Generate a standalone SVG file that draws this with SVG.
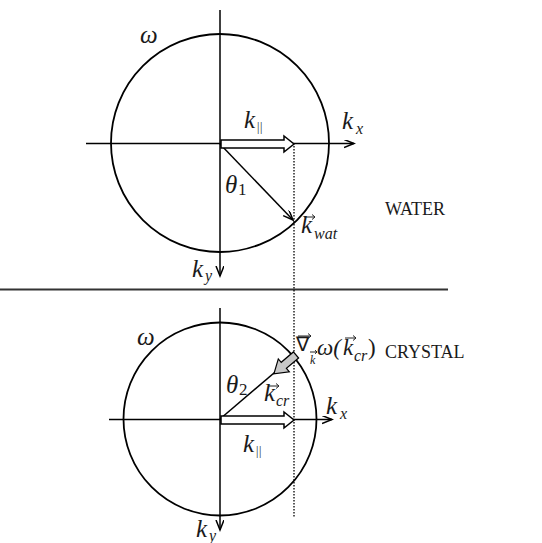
<svg xmlns="http://www.w3.org/2000/svg" width="542" height="543" viewBox="0 0 542 543">
<style>
.ln{stroke:#000;stroke-width:1.5;fill:none}
.circ{stroke:#000;stroke-width:1.8;fill:none}
.dot{stroke:#000;stroke-width:1.3;stroke-dasharray:1.5 1.5;fill:none}
.hollow{fill:#fff;stroke:#000;stroke-width:1.5;stroke-linejoin:miter}
.grad{fill:#c8c8c8;stroke:#000;stroke-width:1.2}
.acc{stroke:#222;stroke-width:1;fill:none}
text{font-family:"Liberation Serif","Times New Roman",serif;fill:#1a1a1a}
.it{font-style:italic;font-size:25px}
.sub{font-style:italic;font-size:16px}
.up{font-size:17px}
.par{font-size:12px;letter-spacing:0.5px}
.lab{font-size:18px}
</style>
<defs>
<marker id="ah" markerWidth="12" markerHeight="10" refX="10" refY="4" orient="auto" markerUnits="userSpaceOnUse">
<path d="M0,0 L10,4 L0,8" stroke="#000" stroke-width="1.5" fill="none"/>
</marker>
</defs>
<rect width="542" height="543" fill="#fff"/>

<g id="separator"><line x1="0" y1="289.5" x2="448" y2="289.5" stroke="#333" stroke-width="2"/></g>

<g id="connectors">
<line class="ln" x1="220" y1="10" x2="220" y2="276" marker-end="url(#ah)"/>
<line class="ln" x1="86" y1="143.5" x2="354" y2="143.5" marker-end="url(#ah)"/>
<line class="ln" x1="220" y1="144" x2="293" y2="220" marker-end="url(#ah)"/>
<line class="dot" x1="294" y1="146" x2="294" y2="517"/>
<line class="ln" x1="220" y1="308" x2="220" y2="530" marker-end="url(#ah)"/>
<line class="ln" x1="109" y1="419.5" x2="332" y2="419.5" marker-end="url(#ah)"/>
<line class="ln" x1="220" y1="419" x2="294" y2="356"/>
</g>

<g id="water-circle"><circle class="circ" cx="220" cy="143" r="109"/></g>
<g id="crystal-circle"><circle class="circ" cx="220" cy="419" r="96.5"/></g>

<g id="kpar-top"><polygon class="hollow" points="221,140 284,140 284,136 294,144 284,152 284,148 221,148"/></g>
<g id="kpar-bottom"><polygon class="hollow" points="221,416 284,416 284,412 294,420 284,428 284,424 221,424"/></g>
<g id="gradient-arrow"><polygon class="grad" transform="translate(296,355) rotate(139.6)" points="0,-4 16,-4 16,-8.5 29,0 16,8.5 16,4 0,4"/></g>

<g id="vector-accents">
<path class="acc" d="M304,217 h11 m-3,-2.5 l3,2.5 l-3,2.5"/>
<path class="acc" d="M268,386 h11 m-3,-2.5 l3,2.5 l-3,2.5"/>
<path class="acc" d="M298,336 h13 m-3,-2.5 l3,2.5 l-3,2.5"/>
<path class="acc" d="M310,352 h7 m-2,-1.8 l2,1.8 l-2,1.8"/>
<path class="acc" d="M345,338 h11 m-3,-2.5 l3,2.5 l-3,2.5"/>
</g>

<g id="labels-top">
<text class="it" x="140" y="43">ω</text>
<text class="it" x="244" y="128">k</text><text class="par" x="257" y="131">||</text>
<text class="it" x="342" y="129">k</text><text class="sub" x="356" y="134">x</text>
<text class="it" x="225" y="193">θ</text><text class="up" x="238" y="195">1</text>
<text class="it" x="301" y="233">k</text><text class="sub" x="314" y="239">wat</text>
<text class="it" x="192" y="277">k</text><text class="sub" x="205" y="281">y</text>
<text class="lab" x="385" y="215">WATER</text>
</g>

<g id="labels-bottom">
<text class="it" x="137" y="345">ω</text>
<text class="it" x="226" y="393">θ</text><text class="up" x="239" y="395">2</text>
<text class="it" x="264" y="401">k</text><text class="sub" x="276" y="406">cr</text>
<text class="it" x="326" y="414">k</text><text class="sub" x="340" y="419">x</text>
<text class="it" x="243" y="452">k</text><text class="par" x="256" y="455">||</text>
<text class="it" x="196" y="537">k</text><text class="sub" x="209" y="541">y</text>
<text class="lab" x="385" y="358">CRYSTAL</text>
<text x="296" y="351" style="font-size:20px">∇</text>
<text style="font-style:italic;font-size:12px" x="310" y="364">k</text>
<text class="it" x="317" y="355" style="font-size:23px">ω(</text>
<text class="it" x="343" y="355" style="font-size:23px">k</text><text class="sub" x="354" y="361">cr</text>
<text style="font-size:23px" x="368" y="355">)</text>
</g>
</svg>
